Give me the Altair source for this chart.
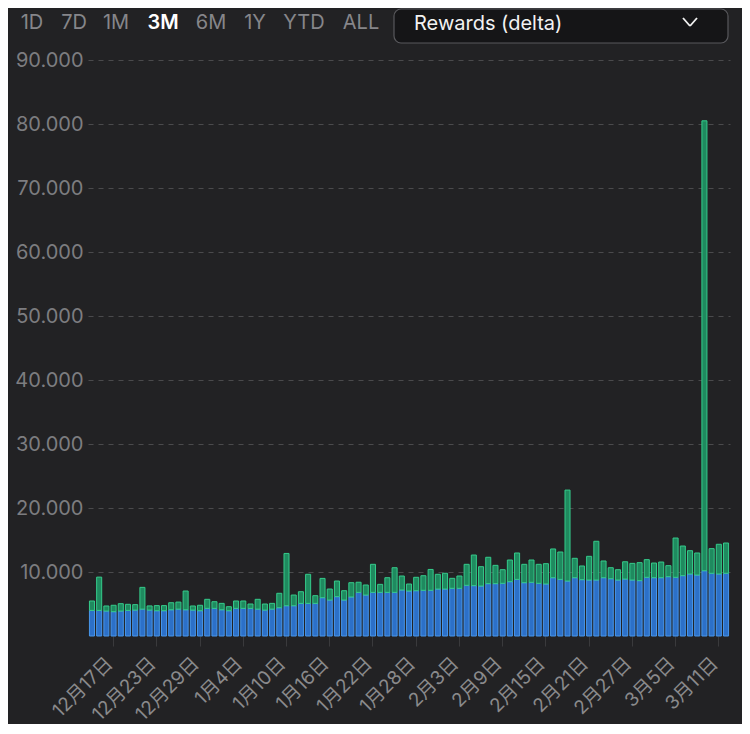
import altair as alt
import pandas as pd

# ---------------- data ----------------
start_day = "2024-12-14"
n_days = 89
days = pd.date_range(start_day, periods=n_days)
day_labels = [f"{d.month}月{d.day}日" for d in days]

staked = [4000, 4000, 3900, 3800, 3900, 4000, 4050, 4200, 4050, 3950,
          3950, 4100, 4200, 4100, 4050, 3950, 4320, 4320, 4100, 3950,
          4320, 4320, 4320, 4200, 4050, 4200, 4420, 4730, 4730, 5100,
          5100, 5100, 5990, 5620, 6150, 5620, 6100, 6820, 6400, 6820,
          6820, 6820, 6820, 7190, 7030, 7080, 7140, 7140, 7340, 7340,
          7450, 7450, 7920, 7870, 7810, 8180, 8180, 8230, 8490, 8850,
          8330, 8390, 8230, 8130, 9110, 8850, 8590, 9110, 8800, 8750,
          8750, 9110, 8950, 8750, 8900, 8750, 8650, 9170, 9110, 9110,
          9270, 9170, 9430, 9690, 9530, 10200, 9800, 9690, 9800]

rewards = [1470, 5200, 790, 1000, 1150, 950, 850, 3400, 650, 800,
           800, 1100, 1100, 2930, 640, 850, 1410, 1040, 1000, 630,
           1150, 1150, 680, 1530, 950, 900, 2250, 8170, 1670, 1820,
           4540, 1200, 3010, 1720, 2440, 1460, 2230, 1580, 1570, 4380,
           1250, 2290, 3850, 2185, 1095, 2090, 2280, 3260, 2300, 2460,
           1560, 1925, 3280, 4780, 3020, 4120, 2860, 2130, 3385, 4120,
           2870, 3485, 2970, 3170, 4490, 4275, 14210, 3030, 2140, 3700,
           6050, 2610, 1720, 1610, 2700, 2600, 2810, 2760, 2290, 2450,
           1720, 6140, 4630, 3640, 3440, 70300, 3850, 4640, 4730]

x_tick_labels = ["12月17日", "12月23日", "12月29日", "1月4日", "1月10日",
                 "1月16日", "1月22日", "1月28日", "2月3日", "2月9日",
                 "2月15日", "2月21日", "2月27日", "3月5日", "3月11日"]
y_ticks = [10000, 20000, 30000, 40000, 50000, 60000, 70000, 80000, 90000]

range_buttons = ["1D", "7D", "1M", "3M", "6M", "1Y", "YTD", "ALL"]
active_button = "3M"
dropdown_label = "Rewards (delta)"

series_names = ["staked", "rewards"]

rows = []
for i, lab in enumerate(day_labels):
    rows.append({"day": lab, "series": series_names[0], "ord": 0, "value": staked[i]})
    rows.append({"day": lab, "series": series_names[1], "ord": 1, "value": rewards[i]})
df = pd.DataFrame(rows)

# ---------------- style ----------------
BG = "#222224"
FONT = "Inter, Noto Sans CJK JP, sans-serif"
fill_colors = ["#2c70c8", "#1f8a5f"]
stroke_colors = ["#4896ea", "#35cb8b"]

bars = alt.Chart(df).mark_bar(strokeWidth=1).encode(
    x=alt.X(
        "day:O",
        sort=day_labels,
        scale=alt.Scale(paddingInner=0.3, paddingOuter=0.2),
        axis=alt.Axis(
            values=x_tick_labels, title=None, labelAngle=315,
            labelAlign="right", labelBaseline="middle",
            labelColor="#8a8a8c", labelFontSize=19, labelFont=FONT,
            tickColor="#3a3a3c", tickSize=10, domain=False,
            labelPadding=14, labelOffset=-4, grid=False,
        ),
    ),
    y=alt.Y(
        "value:Q",
        stack="zero",
        scale=alt.Scale(domain=[0, 90000], nice=False),
        axis=alt.Axis(
            values=y_ticks,
            labelExpr="replace(format(datum.value, ','), ',', '.')",
            title=None, grid=True, gridColor="#4a4a4c", gridDash=[5, 5],
            gridWidth=1, ticks=False, domain=False,
            labelFontSize=20, labelColor="#7d7d80", labelFont=FONT,
            labelPadding=5,
        ),
    ),
    color=alt.Color("series:N", scale=alt.Scale(domain=series_names, range=fill_colors), legend=None),
    stroke=alt.Stroke("series:N", scale=alt.Scale(domain=series_names, range=stroke_colors), legend=None),
    order=alt.Order("ord:Q"),
)

layers = [bars]

# header: time range buttons (layout offsets relative to plot origin)
btn_x = [-56, -14, 28, 75, 123, 167, 216, 273]
for lab, bx in zip(range_buttons, btn_x):
    is_active = lab == active_button
    layers.append(
        alt.Chart(pd.DataFrame({"t": [lab]})).mark_text(
            font=FONT, fontSize=20,
            fontWeight=600 if is_active else 400,
            color="#ffffff" if is_active else "#86868a",
            align="center", baseline="middle",
        ).encode(text="t:N", x=alt.value(bx), y=alt.value(-37))
    )

# dropdown box
layers.append(
    alt.Chart(pd.DataFrame({"a": [0]})).mark_rect(
        fill="#151517", stroke="#58585c", strokeWidth=1.2, cornerRadius=7
    ).encode(x=alt.value(306), x2=alt.value(640), y=alt.value(-51), y2=alt.value(-17))
)
layers.append(
    alt.Chart(pd.DataFrame({"t": [dropdown_label]})).mark_text(
        font=FONT, fontSize=20, color="#f2f2f2", align="left", baseline="middle"
    ).encode(text="t:N", x=alt.value(326), y=alt.value(-36))
)
# chevron
layers.append(
    alt.Chart(pd.DataFrame({"a": [0]})).mark_rule(color="#f2f2f2", strokeWidth=1.8).encode(
        x=alt.value(595), y=alt.value(-42), x2=alt.value(602), y2=alt.value(-34))
)
layers.append(
    alt.Chart(pd.DataFrame({"a": [0]})).mark_rule(color="#f2f2f2", strokeWidth=1.8).encode(
        x=alt.value(602), y=alt.value(-34), x2=alt.value(609), y2=alt.value(-42))
)

chart = alt.layer(*layers).properties(
    width=642, height=576,
    autosize=alt.AutoSizeParams(type="none"),
    padding={"left": 80, "top": 52, "right": 12, "bottom": 88},
    background=BG,
).configure_view(stroke=None)

chart.save("out.html", embed_options={"renderer": "svg", "actions": False})
